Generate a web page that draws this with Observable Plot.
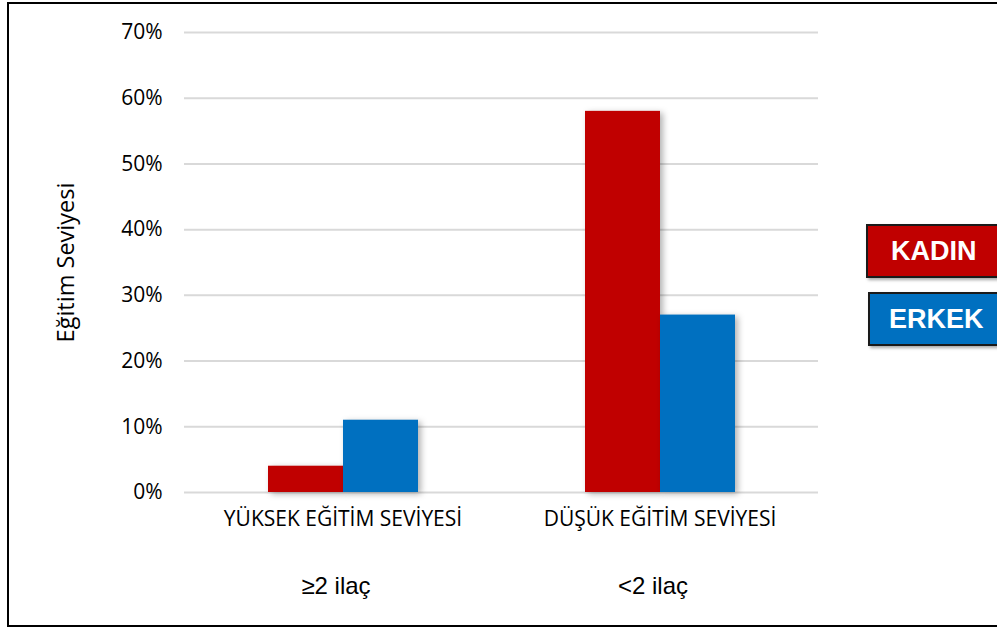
<!DOCTYPE html>
<html>
<head>
<meta charset="utf-8">
<script src="https://cdn.jsdelivr.net/npm/d3@7"></script>
<script src="https://cdn.jsdelivr.net/npm/@observablehq/plot@0.6"></script>
<style>
  html, body { margin: 0; padding: 0; background: #fff; }
  #wrap { position: relative; width: 997px; height: 628px; overflow: hidden; }
  #frame { position: absolute; left: 7px; top: 2px; width: 1000px; height: 621px;
           border: 2px solid #000; border-right: none; pointer-events: none; }
  .leg { position: absolute; height: 54px; box-sizing: border-box; border: 2px solid #1a1a1a;
         box-shadow: 2px 2px 3px rgba(0,0,0,0.35); color: #fff;
         font: bold 27px "Liberation Sans", Arial, sans-serif; line-height: 50px; }
  #chart svg g[aria-label="bar"] rect { filter: drop-shadow(3px 2px 3px rgba(0,0,0,0.3)); }
</style>
</head>
<body>
<div id="wrap">
  <div id="chart"></div>
  <div id="frame"></div>
  <div id="legend"></div>
</div>
<script>
// Data
const groups = ["YÜKSEK EĞİTİM SEVİYESİ", "DÜŞÜK EĞİTİM SEVİYESİ"];
const drugLabels = ["≥2 ilaç", "<2 ilaç"];
const series = ["KADIN", "ERKEK"];
const kadinValues = [4, 58];
const erkekValues = [11, 27];
const yTicks = [0, 10, 20, 30, 40, 50, 60, 70];
const colors = ["#C00000", "#0070C0"];

const data = [];
groups.forEach((g, i) => {
  data.push({group: g, sex: series[0], value: kadinValues[i]});
  data.push({group: g, sex: series[1], value: erkekValues[i]});
});
const drugOf = Object.fromEntries(groups.map((g, i) => [g, drugLabels[i]]));

const chart = Plot.plot({
  width: 997,
  height: 628,
  marginLeft: 184,
  marginRight: 179,
  marginTop: 32,
  marginBottom: 136,
  style: {fontFamily: "'Open Sans', sans-serif", fontSize: "21px", color: "#000", background: "transparent"},
  fx: {domain: groups, padding: 0, axis: null},
  x: {domain: series, paddingInner: 0, paddingOuter: 1.1, axis: null},
  y: {domain: [0, 70], axis: null},
  color: {domain: series, range: colors},
  marks: [
    Plot.gridY(yTicks, {stroke: "#d9d9d9", strokeWidth: 2, strokeOpacity: 1}),
    Plot.axisY(yTicks, {tickSize: 0, tickPadding: 22, fontSize: 21, tickFormat: d => d + "%", label: null}),
    Plot.axisY([], {label: "Eğitim Seviyesi", labelAnchor: "center", labelArrow: "none",
      labelOffset: 127, fontSize: 23.5, tickSize: 0}),
    Plot.barY(data, {fx: "group", x: "sex", y: "value", fill: "sex", inset: 0}),
    Plot.axisFx({anchor: "bottom", tickSize: 0, tickPadding: 19, fontSize: 21, label: null}),
    Plot.axisFx({anchor: "bottom", tickSize: 0, tickPadding: 84, fontSize: 24, label: null, dx: -7,
      fontFamily: "'Liberation Sans', Arial, sans-serif", tickFormat: d => drugOf[d]})
  ]
});
document.getElementById("chart").appendChild(chart);

// Legend
const legPos = [{left: 866, top: 224, pad: 23}, {left: 868, top: 292, pad: 19}];
const legend = document.getElementById("legend");
series.forEach((s, i) => {
  const d = document.createElement("div");
  d.className = "leg";
  d.style.left = legPos[i].left + "px";
  d.style.top = legPos[i].top + "px";
  d.style.width = (1000 - legPos[i].left) + "px";
  d.style.background = colors[i];
  d.style.paddingLeft = legPos[i].pad + "px";
  d.textContent = s;
  legend.appendChild(d);
});
</script>
</body>
</html>
